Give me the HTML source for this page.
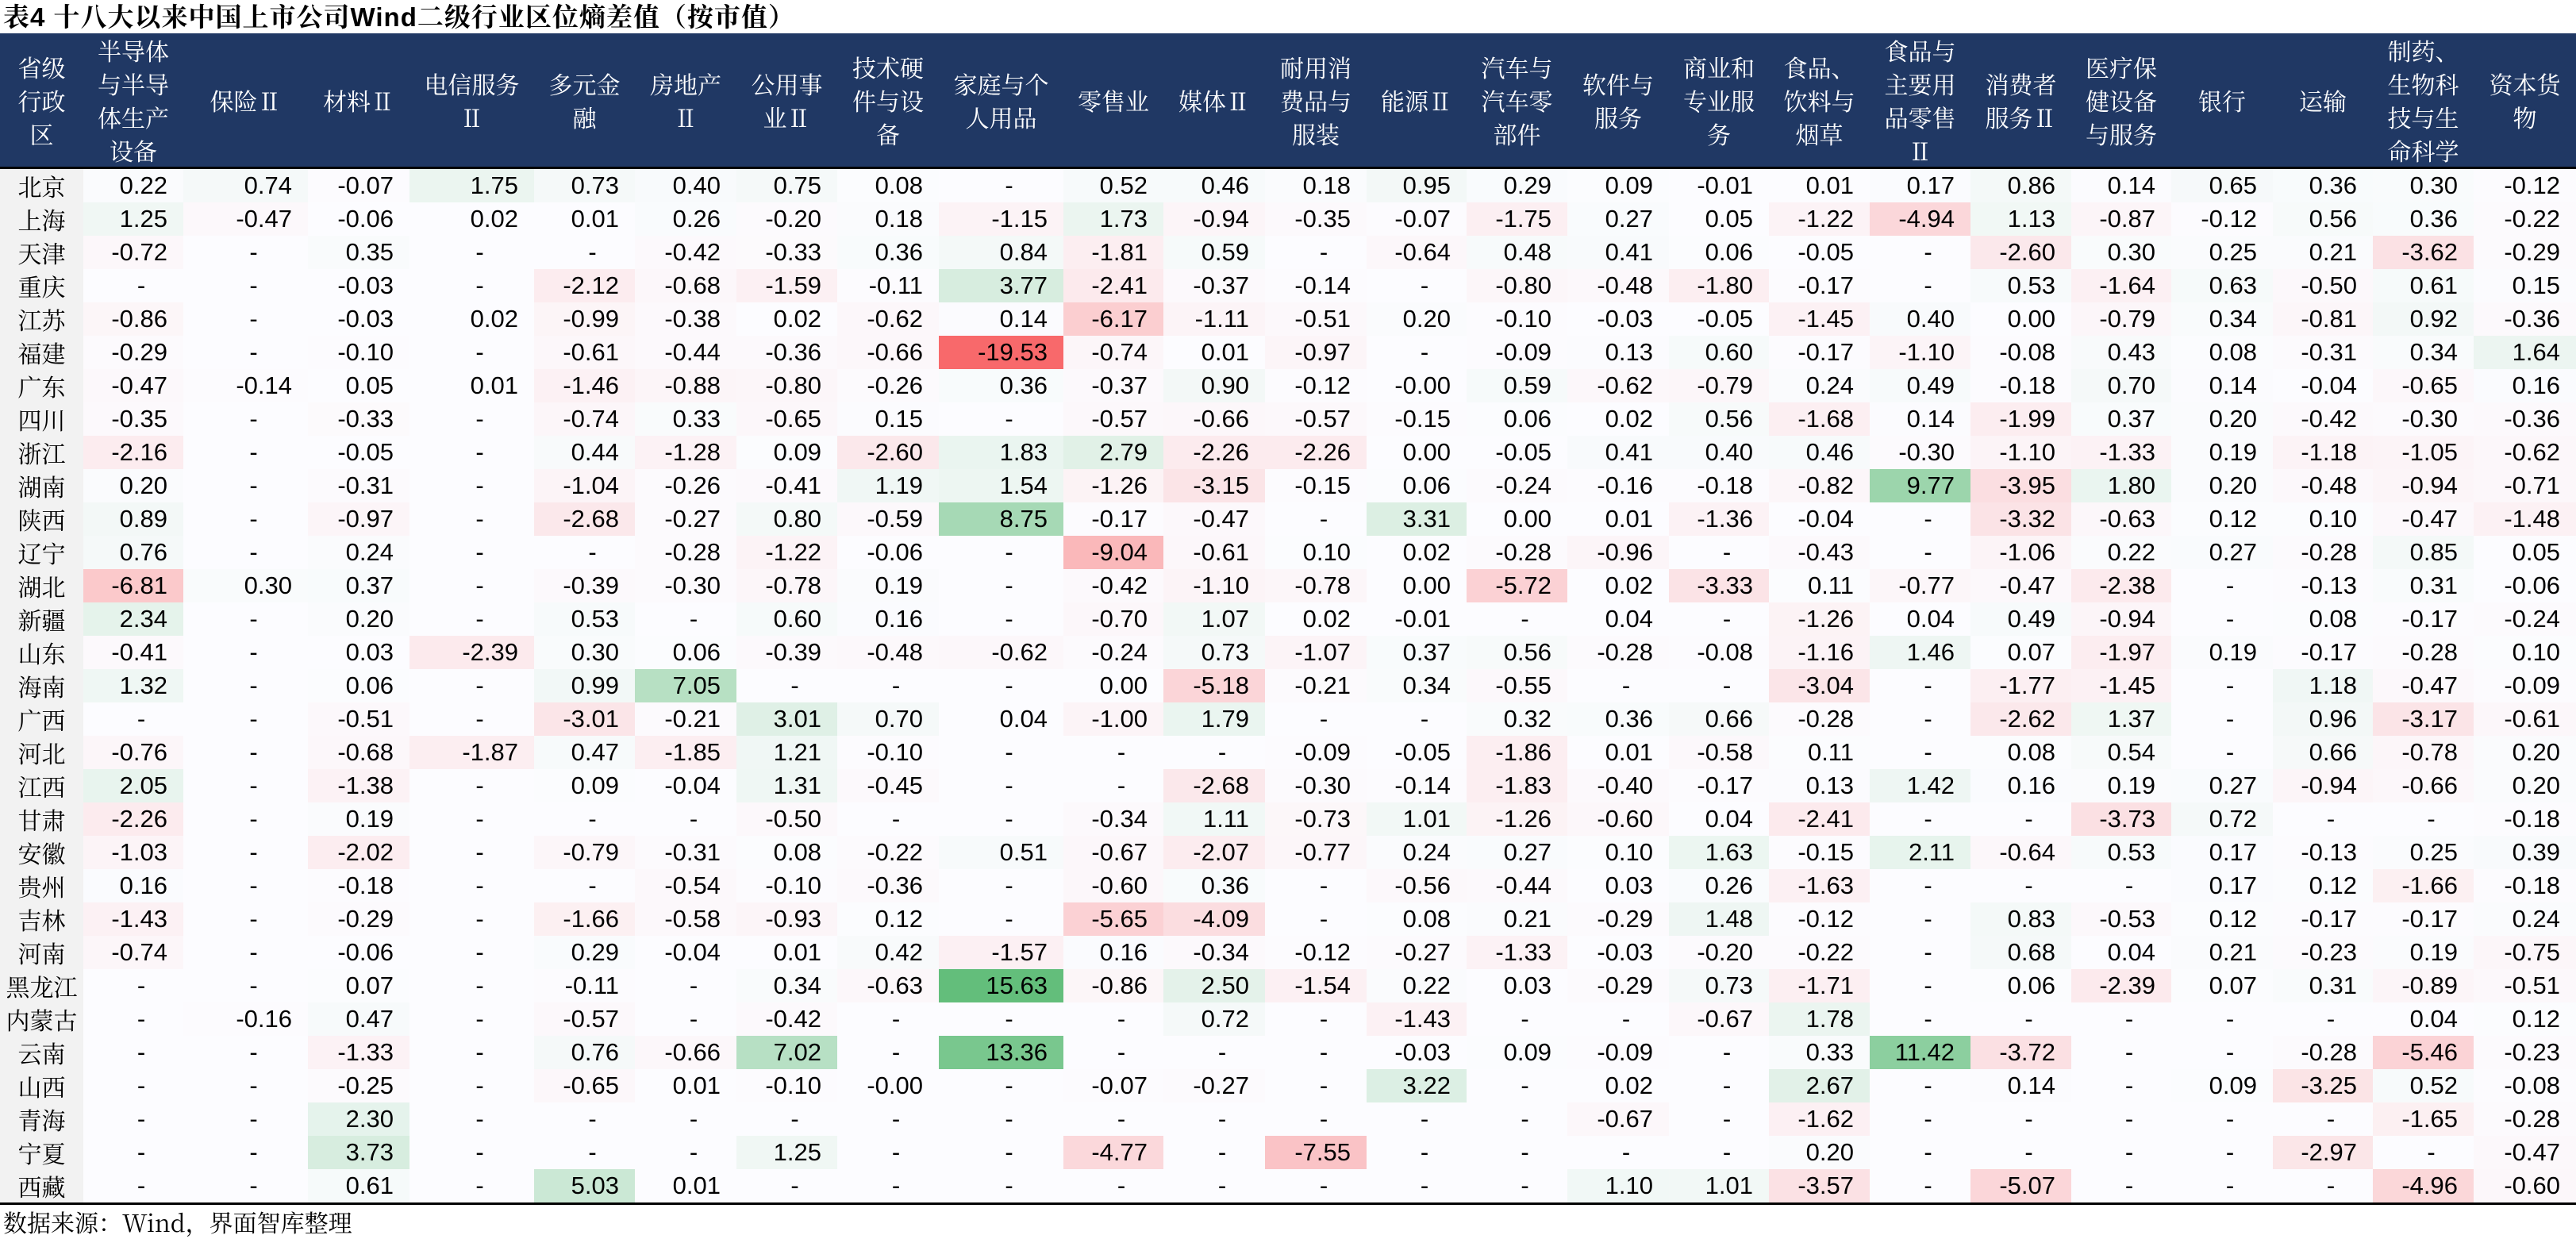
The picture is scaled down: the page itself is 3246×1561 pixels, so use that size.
<!DOCTYPE html>
<html><head><meta charset="utf-8">
<style>
html,body{margin:0;padding:0;background:#fff;}
body{width:3246px;height:1557px;position:relative;overflow:hidden;font-family:"Liberation Sans","Noto Serif CJK SC",serif;}
#title{position:absolute;left:4px;top:2px;height:40px;font-family:"Liberation Sans","Noto Serif CJK SC",serif;font-weight:700;font-size:33px;line-height:40px;letter-spacing:1px;color:#000;white-space:nowrap;}
table{position:absolute;left:0;top:42px;border-collapse:collapse;table-layout:fixed;width:3246px;}
th{background:#203864;color:#fff;font-family:"Noto Serif CJK SC","Noto Sans CJK SC",serif;font-weight:400;font-size:30px;line-height:42px;height:168px;padding:0 2px;text-align:center;vertical-align:middle;border-bottom:3px solid #000;box-sizing:border-box;overflow:hidden;}
td{height:42px;padding:0 20px 0 0;font-family:"Liberation Sans Narrow","Liberation Sans",sans-serif;font-size:31px;line-height:42px;text-align:right;background:#fcfcff;color:#000;white-space:nowrap;overflow:hidden;}
td:first-child{background:#f2f2f2;text-align:center;padding:0;font-family:"Noto Serif CJK SC","Noto Sans CJK SC",serif;font-size:30px;}
td.d{text-align:center;padding:0 0 0 20px;}
tr:last-child td{border-bottom:3px solid #000;}
#foot{position:absolute;left:4px;top:1520px;font-family:"Noto Serif CJK SC","Noto Sans CJK SC",serif;font-size:30px;line-height:38px;color:#000;white-space:nowrap;}
</style></head><body>
<div id="title">表4 十八大以来中国上市公司Wind二级行业区位熵差值（按市值）</div>
<table id="t">
<colgroup><col style="width:105px"><col style="width:126px"><col style="width:157px"><col style="width:128px"><col style="width:157px"><col style="width:127px"><col style="width:128px"><col style="width:127px"><col style="width:128px"><col style="width:157px"><col style="width:126px"><col style="width:128px"><col style="width:128px"><col style="width:126px"><col style="width:127px"><col style="width:128px"><col style="width:126px"><col style="width:127px"><col style="width:127px"><col style="width:127px"><col style="width:126px"><col style="width:128px"><col style="width:126px"><col style="width:127px"><col style="width:129px"></colgroup>
<thead><tr><th>省级<br>行政<br>区</th><th>半导体<br>与半导<br>体生产<br>设备</th><th>保险Ⅱ</th><th>材料Ⅱ</th><th>电信服务<br>Ⅱ</th><th>多元金<br>融</th><th>房地产<br>Ⅱ</th><th>公用事<br>业Ⅱ</th><th>技术硬<br>件与设<br>备</th><th>家庭与个<br>人用品</th><th>零售业</th><th>媒体Ⅱ</th><th>耐用消<br>费品与<br>服装</th><th>能源Ⅱ</th><th>汽车与<br>汽车零<br>部件</th><th>软件与<br>服务</th><th>商业和<br>专业服<br>务</th><th>食品、<br>饮料与<br>烟草</th><th>食品与<br>主要用<br>品零售<br>Ⅱ</th><th>消费者<br>服务Ⅱ</th><th>医疗保<br>健设备<br>与服务</th><th>银行</th><th>运输</th><th>制药、<br>生物科<br>技与生<br>命科学</th><th>资本货<br>物</th></tr></thead>
<tbody>
<tr><td>北京</td><td>0.22</td><td>0.74</td><td>-0.07</td><td>1.75</td><td>0.73</td><td>0.40</td><td>0.75</td><td>0.08</td><td>-</td><td>0.52</td><td>0.46</td><td>0.18</td><td>0.95</td><td>0.29</td><td>0.09</td><td>-0.01</td><td>0.01</td><td>0.17</td><td>0.86</td><td>0.14</td><td>0.65</td><td>0.36</td><td>0.30</td><td>-0.12</td></tr>
<tr><td>上海</td><td>1.25</td><td>-0.47</td><td>-0.06</td><td>0.02</td><td>0.01</td><td>0.26</td><td>-0.20</td><td>0.18</td><td>-1.15</td><td>1.73</td><td>-0.94</td><td>-0.35</td><td>-0.07</td><td>-1.75</td><td>0.27</td><td>0.05</td><td>-1.22</td><td>-4.94</td><td>1.13</td><td>-0.87</td><td>-0.12</td><td>0.56</td><td>0.36</td><td>-0.22</td></tr>
<tr><td>天津</td><td>-0.72</td><td>-</td><td>0.35</td><td>-</td><td>-</td><td>-0.42</td><td>-0.33</td><td>0.36</td><td>0.84</td><td>-1.81</td><td>0.59</td><td>-</td><td>-0.64</td><td>0.48</td><td>0.41</td><td>0.06</td><td>-0.05</td><td>-</td><td>-2.60</td><td>0.30</td><td>0.25</td><td>0.21</td><td>-3.62</td><td>-0.29</td></tr>
<tr><td>重庆</td><td>-</td><td>-</td><td>-0.03</td><td>-</td><td>-2.12</td><td>-0.68</td><td>-1.59</td><td>-0.11</td><td>3.77</td><td>-2.41</td><td>-0.37</td><td>-0.14</td><td>-</td><td>-0.80</td><td>-0.48</td><td>-1.80</td><td>-0.17</td><td>-</td><td>0.53</td><td>-1.64</td><td>0.63</td><td>-0.50</td><td>0.61</td><td>0.15</td></tr>
<tr><td>江苏</td><td>-0.86</td><td>-</td><td>-0.03</td><td>0.02</td><td>-0.99</td><td>-0.38</td><td>0.02</td><td>-0.62</td><td>0.14</td><td>-6.17</td><td>-1.11</td><td>-0.51</td><td>0.20</td><td>-0.10</td><td>-0.03</td><td>-0.05</td><td>-1.45</td><td>0.40</td><td>0.00</td><td>-0.79</td><td>0.34</td><td>-0.81</td><td>0.92</td><td>-0.36</td></tr>
<tr><td>福建</td><td>-0.29</td><td>-</td><td>-0.10</td><td>-</td><td>-0.61</td><td>-0.44</td><td>-0.36</td><td>-0.66</td><td>-19.53</td><td>-0.74</td><td>0.01</td><td>-0.97</td><td>-</td><td>-0.09</td><td>0.13</td><td>0.60</td><td>-0.17</td><td>-1.10</td><td>-0.08</td><td>0.43</td><td>0.08</td><td>-0.31</td><td>0.34</td><td>1.64</td></tr>
<tr><td>广东</td><td>-0.47</td><td>-0.14</td><td>0.05</td><td>0.01</td><td>-1.46</td><td>-0.88</td><td>-0.80</td><td>-0.26</td><td>0.36</td><td>-0.37</td><td>0.90</td><td>-0.12</td><td>-0.00</td><td>0.59</td><td>-0.62</td><td>-0.79</td><td>0.24</td><td>0.49</td><td>-0.18</td><td>0.70</td><td>0.14</td><td>-0.04</td><td>-0.65</td><td>0.16</td></tr>
<tr><td>四川</td><td>-0.35</td><td>-</td><td>-0.33</td><td>-</td><td>-0.74</td><td>0.33</td><td>-0.65</td><td>0.15</td><td>-</td><td>-0.57</td><td>-0.66</td><td>-0.57</td><td>-0.15</td><td>0.06</td><td>0.02</td><td>0.56</td><td>-1.68</td><td>0.14</td><td>-1.99</td><td>0.37</td><td>0.20</td><td>-0.42</td><td>-0.30</td><td>-0.36</td></tr>
<tr><td>浙江</td><td>-2.16</td><td>-</td><td>-0.05</td><td>-</td><td>0.44</td><td>-1.28</td><td>0.09</td><td>-2.60</td><td>1.83</td><td>2.79</td><td>-2.26</td><td>-2.26</td><td>0.00</td><td>-0.05</td><td>0.41</td><td>0.40</td><td>0.46</td><td>-0.30</td><td>-1.10</td><td>-1.33</td><td>0.19</td><td>-1.18</td><td>-1.05</td><td>-0.62</td></tr>
<tr><td>湖南</td><td>0.20</td><td>-</td><td>-0.31</td><td>-</td><td>-1.04</td><td>-0.26</td><td>-0.41</td><td>1.19</td><td>1.54</td><td>-1.26</td><td>-3.15</td><td>-0.15</td><td>0.06</td><td>-0.24</td><td>-0.16</td><td>-0.18</td><td>-0.82</td><td>9.77</td><td>-3.95</td><td>1.80</td><td>0.20</td><td>-0.48</td><td>-0.94</td><td>-0.71</td></tr>
<tr><td>陕西</td><td>0.89</td><td>-</td><td>-0.97</td><td>-</td><td>-2.68</td><td>-0.27</td><td>0.80</td><td>-0.59</td><td>8.75</td><td>-0.17</td><td>-0.47</td><td>-</td><td>3.31</td><td>0.00</td><td>0.01</td><td>-1.36</td><td>-0.04</td><td>-</td><td>-3.32</td><td>-0.63</td><td>0.12</td><td>0.10</td><td>-0.47</td><td>-1.48</td></tr>
<tr><td>辽宁</td><td>0.76</td><td>-</td><td>0.24</td><td>-</td><td>-</td><td>-0.28</td><td>-1.22</td><td>-0.06</td><td>-</td><td>-9.04</td><td>-0.61</td><td>0.10</td><td>0.02</td><td>-0.28</td><td>-0.96</td><td>-</td><td>-0.43</td><td>-</td><td>-1.06</td><td>0.22</td><td>0.27</td><td>-0.28</td><td>0.85</td><td>0.05</td></tr>
<tr><td>湖北</td><td>-6.81</td><td>0.30</td><td>0.37</td><td>-</td><td>-0.39</td><td>-0.30</td><td>-0.78</td><td>0.19</td><td>-</td><td>-0.42</td><td>-1.10</td><td>-0.78</td><td>0.00</td><td>-5.72</td><td>0.02</td><td>-3.33</td><td>0.11</td><td>-0.77</td><td>-0.47</td><td>-2.38</td><td>-</td><td>-0.13</td><td>0.31</td><td>-0.06</td></tr>
<tr><td>新疆</td><td>2.34</td><td>-</td><td>0.20</td><td>-</td><td>0.53</td><td>-</td><td>0.60</td><td>0.16</td><td>-</td><td>-0.70</td><td>1.07</td><td>0.02</td><td>-0.01</td><td>-</td><td>0.04</td><td>-</td><td>-1.26</td><td>0.04</td><td>0.49</td><td>-0.94</td><td>-</td><td>0.08</td><td>-0.17</td><td>-0.24</td></tr>
<tr><td>山东</td><td>-0.41</td><td>-</td><td>0.03</td><td>-2.39</td><td>0.30</td><td>0.06</td><td>-0.39</td><td>-0.48</td><td>-0.62</td><td>-0.24</td><td>0.73</td><td>-1.07</td><td>0.37</td><td>0.56</td><td>-0.28</td><td>-0.08</td><td>-1.16</td><td>1.46</td><td>0.07</td><td>-1.97</td><td>0.19</td><td>-0.17</td><td>-0.28</td><td>0.10</td></tr>
<tr><td>海南</td><td>1.32</td><td>-</td><td>0.06</td><td>-</td><td>0.99</td><td>7.05</td><td>-</td><td>-</td><td>-</td><td>0.00</td><td>-5.18</td><td>-0.21</td><td>0.34</td><td>-0.55</td><td>-</td><td>-</td><td>-3.04</td><td>-</td><td>-1.77</td><td>-1.45</td><td>-</td><td>1.18</td><td>-0.47</td><td>-0.09</td></tr>
<tr><td>广西</td><td>-</td><td>-</td><td>-0.51</td><td>-</td><td>-3.01</td><td>-0.21</td><td>3.01</td><td>0.70</td><td>0.04</td><td>-1.00</td><td>1.79</td><td>-</td><td>-</td><td>0.32</td><td>0.36</td><td>0.66</td><td>-0.28</td><td>-</td><td>-2.62</td><td>1.37</td><td>-</td><td>0.96</td><td>-3.17</td><td>-0.61</td></tr>
<tr><td>河北</td><td>-0.76</td><td>-</td><td>-0.68</td><td>-1.87</td><td>0.47</td><td>-1.85</td><td>1.21</td><td>-0.10</td><td>-</td><td>-</td><td>-</td><td>-0.09</td><td>-0.05</td><td>-1.86</td><td>0.01</td><td>-0.58</td><td>0.11</td><td>-</td><td>0.08</td><td>0.54</td><td>-</td><td>0.66</td><td>-0.78</td><td>0.20</td></tr>
<tr><td>江西</td><td>2.05</td><td>-</td><td>-1.38</td><td>-</td><td>0.09</td><td>-0.04</td><td>1.31</td><td>-0.45</td><td>-</td><td>-</td><td>-2.68</td><td>-0.30</td><td>-0.14</td><td>-1.83</td><td>-0.40</td><td>-0.17</td><td>0.13</td><td>1.42</td><td>0.16</td><td>0.19</td><td>0.27</td><td>-0.94</td><td>-0.66</td><td>0.20</td></tr>
<tr><td>甘肃</td><td>-2.26</td><td>-</td><td>0.19</td><td>-</td><td>-</td><td>-</td><td>-0.50</td><td>-</td><td>-</td><td>-0.34</td><td>1.11</td><td>-0.73</td><td>1.01</td><td>-1.26</td><td>-0.60</td><td>0.04</td><td>-2.41</td><td>-</td><td>-</td><td>-3.73</td><td>0.72</td><td>-</td><td>-</td><td>-0.18</td></tr>
<tr><td>安徽</td><td>-1.03</td><td>-</td><td>-2.02</td><td>-</td><td>-0.79</td><td>-0.31</td><td>0.08</td><td>-0.22</td><td>0.51</td><td>-0.67</td><td>-2.07</td><td>-0.77</td><td>0.24</td><td>0.27</td><td>0.10</td><td>1.63</td><td>-0.15</td><td>2.11</td><td>-0.64</td><td>0.53</td><td>0.17</td><td>-0.13</td><td>0.25</td><td>0.39</td></tr>
<tr><td>贵州</td><td>0.16</td><td>-</td><td>-0.18</td><td>-</td><td>-</td><td>-0.54</td><td>-0.10</td><td>-0.36</td><td>-</td><td>-0.60</td><td>0.36</td><td>-</td><td>-0.56</td><td>-0.44</td><td>0.03</td><td>0.26</td><td>-1.63</td><td>-</td><td>-</td><td>-</td><td>0.17</td><td>0.12</td><td>-1.66</td><td>-0.18</td></tr>
<tr><td>吉林</td><td>-1.43</td><td>-</td><td>-0.29</td><td>-</td><td>-1.66</td><td>-0.58</td><td>-0.93</td><td>0.12</td><td>-</td><td>-5.65</td><td>-4.09</td><td>-</td><td>0.08</td><td>0.21</td><td>-0.29</td><td>1.48</td><td>-0.12</td><td>-</td><td>0.83</td><td>-0.53</td><td>0.12</td><td>-0.17</td><td>-0.17</td><td>0.24</td></tr>
<tr><td>河南</td><td>-0.74</td><td>-</td><td>-0.06</td><td>-</td><td>0.29</td><td>-0.04</td><td>0.01</td><td>0.42</td><td>-1.57</td><td>0.16</td><td>-0.34</td><td>-0.12</td><td>-0.27</td><td>-1.33</td><td>-0.03</td><td>-0.20</td><td>-0.22</td><td>-</td><td>0.68</td><td>0.04</td><td>0.21</td><td>-0.23</td><td>0.19</td><td>-0.75</td></tr>
<tr><td>黑龙江</td><td>-</td><td>-</td><td>0.07</td><td>-</td><td>-0.11</td><td>-</td><td>0.34</td><td>-0.63</td><td>15.63</td><td>-0.86</td><td>2.50</td><td>-1.54</td><td>0.22</td><td>0.03</td><td>-0.29</td><td>0.73</td><td>-1.71</td><td>-</td><td>0.06</td><td>-2.39</td><td>0.07</td><td>0.31</td><td>-0.89</td><td>-0.51</td></tr>
<tr><td>内蒙古</td><td>-</td><td>-0.16</td><td>0.47</td><td>-</td><td>-0.57</td><td>-</td><td>-0.42</td><td>-</td><td>-</td><td>-</td><td>0.72</td><td>-</td><td>-1.43</td><td>-</td><td>-</td><td>-0.67</td><td>1.78</td><td>-</td><td>-</td><td>-</td><td>-</td><td>-</td><td>0.04</td><td>0.12</td></tr>
<tr><td>云南</td><td>-</td><td>-</td><td>-1.33</td><td>-</td><td>0.76</td><td>-0.66</td><td>7.02</td><td>-</td><td>13.36</td><td>-</td><td>-</td><td>-</td><td>-0.03</td><td>0.09</td><td>-0.09</td><td>-</td><td>0.33</td><td>11.42</td><td>-3.72</td><td>-</td><td>-</td><td>-0.28</td><td>-5.46</td><td>-0.23</td></tr>
<tr><td>山西</td><td>-</td><td>-</td><td>-0.25</td><td>-</td><td>-0.65</td><td>0.01</td><td>-0.10</td><td>-0.00</td><td>-</td><td>-0.07</td><td>-0.27</td><td>-</td><td>3.22</td><td>-</td><td>0.02</td><td>-</td><td>2.67</td><td>-</td><td>0.14</td><td>-</td><td>0.09</td><td>-3.25</td><td>0.52</td><td>-0.08</td></tr>
<tr><td>青海</td><td>-</td><td>-</td><td>2.30</td><td>-</td><td>-</td><td>-</td><td>-</td><td>-</td><td>-</td><td>-</td><td>-</td><td>-</td><td>-</td><td>-</td><td>-0.67</td><td>-</td><td>-1.62</td><td>-</td><td>-</td><td>-</td><td>-</td><td>-</td><td>-1.65</td><td>-0.28</td></tr>
<tr><td>宁夏</td><td>-</td><td>-</td><td>3.73</td><td>-</td><td>-</td><td>-</td><td>1.25</td><td>-</td><td>-</td><td>-4.77</td><td>-</td><td>-7.55</td><td>-</td><td>-</td><td>-</td><td>-</td><td>0.20</td><td>-</td><td>-</td><td>-</td><td>-</td><td>-2.97</td><td>-</td><td>-0.47</td></tr>
<tr><td>西藏</td><td>-</td><td>-</td><td>0.61</td><td>-</td><td>5.03</td><td>0.01</td><td>-</td><td>-</td><td>-</td><td>-</td><td>-</td><td>-</td><td>-</td><td>-</td><td>1.10</td><td>1.01</td><td>-3.57</td><td>-</td><td>-5.07</td><td>-</td><td>-</td><td>-</td><td>-4.96</td><td>-0.60</td></tr>
</tbody></table>
<div id="foot">数据来源：Wind，界面智库整理</div>
<script>
(function(){
var W=[252,252,255],R=[248,105,107],G=[99,190,123];
function mix(a,b,t){return 'rgb('+a.map(function(x,i){return Math.round(x+(b[i]-x)*t);}).join(',')+')';}
var rows=document.querySelectorAll('#t tbody tr');
rows.forEach(function(r){
  var c=r.children;
  for(var i=1;i<c.length;i++){
    var s=c[i].textContent.trim();
    if(s==='-'){c[i].className='d';continue;}
    var v=parseFloat(s);
    if(isNaN(v))continue;
    if(v<0)c[i].style.background=mix(W,R,Math.min(1,v/-19.53));
    else if(v>0)c[i].style.background=mix(W,G,Math.min(1,v/15.63));
  }
});
})();
</script>
</body></html>
